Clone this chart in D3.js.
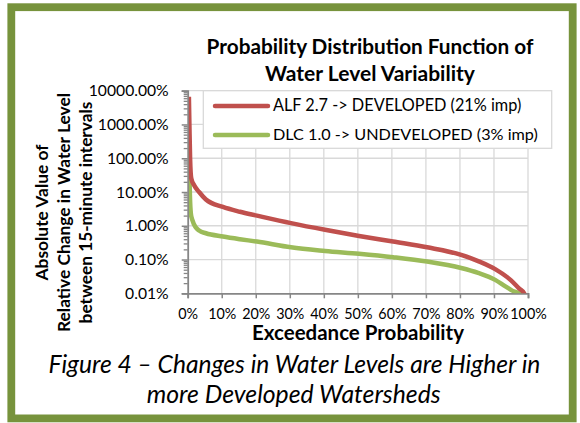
<!DOCTYPE html>
<html><head><meta charset="utf-8">
<script src="https://cdn.jsdelivr.net/npm/d3@7"></script>
<style>html,body{margin:0;padding:0;background:#fff;} svg{display:block;}</style>
</head><body>
<script>
// ---------- data ----------
const titleLines = ["Probability Distribution Function of", "Water Level Variability"];
const yTitleLines = ["Absolute Value of", "Relative Change in Water Level", "between 15-minute intervals"];
const xTitle = "Exceedance Probability";
const captionLines = ["Figure 4 \u2013 Changes in Water Levels are Higher in", "more Developed Watersheds"];
const seriesNames = ["ALF 2.7 -> DEVELOPED (21% imp)", "DLC 1.0 -> UNDEVELOPED (3% imp)"];

const xTickValues = [0, 10, 20, 30, 40, 50, 60, 70, 80, 90, 100];           // exceedance %
const yTickValues = [0.01, 0.1, 1, 10, 100, 1000, 10000];                    // percent

// ALF 2.7 -> DEVELOPED: exceedance probability (%) and value (%)
const alfExceedance = [0, 0.15, 0.35, 0.7, 1.5, 3, 5, 10, 15, 20, 30, 40, 50, 60, 70, 80, 85, 90, 94.5, 97, 98.5, 99.2];
const alfValues     = [6600, 1000, 100, 25, 16, 10, 6, 3.6, 2.6, 2.0, 1.2, 0.76, 0.5, 0.34, 0.23, 0.138, 0.09, 0.052, 0.025, 0.014, 0.01, 0.006];

// DLC 1.0 -> UNDEVELOPED
const dlcExceedance = [0, 0.12, 0.3, 0.6, 1, 2, 3, 5, 10, 15, 20, 30, 40, 50, 60, 70, 80, 85, 90, 93, 95, 97.5, 98.2];
const dlcValues     = [250, 50, 8, 2.2, 1.5, 0.9, 0.72, 0.6, 0.48, 0.4, 0.34, 0.23, 0.18, 0.148, 0.117, 0.087, 0.056, 0.04, 0.025, 0.016, 0.012, 0.0095, 0.006];

// ---------- layout ----------
const W = 580, H = 423;
const plot = {left: 187.7, right: 528, top: 90.7, bottom: 293.3};
const colors = {alf: "#C0504D", dlc: "#9BBB59", border: "#77933C", grid: "#D9D9D9", axis: "#868686"};
const FONT = "Lato, 'Open Sans', 'Liberation Sans', sans-serif";

const svg = d3.select("body").append("svg").attr("width", W).attr("height", H)
  .style("font-family", FONT);

svg.append("rect").attr("x", 0).attr("y", 0).attr("width", W).attr("height", H).attr("fill", "#fff");
svg.append("rect").attr("x", 11.3).attr("y", 7.2).attr("width", 561.4).attr("height", 411.2)
  .attr("fill", "#fff").attr("stroke", colors.border).attr("stroke-width", 7.8);

const x = d3.scaleLinear().domain([0, 100]).range([plot.left, plot.right]);
const y = d3.scaleLog().domain([0.01, 10000]).range([plot.bottom, plot.top]);

function fit(sel, target) {
  const w = sel.node().getComputedTextLength();
  const fs = parseFloat(sel.attr("font-size"));
  sel.attr("font-size", (fs * target / w).toFixed(2));
}

// gridlines
const grid = svg.append("g");
grid.selectAll("line.v").data(xTickValues.filter(d => d > 0)).join("line")
  .attr("x1", d => x(d)).attr("x2", d => x(d)).attr("y1", plot.top).attr("y2", plot.bottom)
  .attr("stroke", colors.grid).attr("stroke-width", 1.3);
grid.selectAll("line.h").data(yTickValues.filter(d => d > 0.01)).join("line")
  .attr("x1", plot.left).attr("x2", plot.right).attr("y1", d => y(d)).attr("y2", d => y(d))
  .attr("stroke", colors.grid).attr("stroke-width", 1.3);

// minor ticks on log axis
const minorTicks = [];
yTickValues.slice(0, -1).forEach(d => { for (let k = 2; k <= 9; k++) minorTicks.push(d * k); });
const yMinor = svg.append("g").attr("transform", `translate(${plot.left},0)`)
  .call(d3.axisLeft(y).tickValues(minorTicks).tickSize(4).tickFormat(""));
yMinor.select(".domain").remove();
yMinor.selectAll("line").attr("stroke", colors.axis).attr("stroke-width", 1.3);

// y axis
const yAxis = svg.append("g").attr("transform", `translate(${plot.left},0)`)
  .call(d3.axisLeft(y).tickValues(yTickValues).tickSize(6).tickPadding(13)
    .tickFormat(d => d3.format(".2f")(d) + "%"));
yAxis.select(".domain").attr("stroke", colors.axis).attr("stroke-width", 1.8);
yAxis.selectAll(".tick line").attr("stroke", colors.axis).attr("stroke-width", 1.5);
yAxis.selectAll("text").attr("font-size", 14).attr("fill", "#000").attr("font-family", FONT);

// x axis
const xAxis = svg.append("g").attr("transform", `translate(0,${plot.bottom})`)
  .call(d3.axisBottom(x).tickValues(xTickValues).tickSize(5).tickFormat(d => d + "%"));
xAxis.select(".domain").attr("stroke", colors.axis).attr("stroke-width", 1.8);
xAxis.selectAll(".tick line").attr("stroke", colors.axis).attr("stroke-width", 1.5);
xAxis.selectAll("text").attr("font-size", 14).attr("fill", "#000").attr("font-family", FONT)
  .attr("y", 25.5).attr("dy", 0);

// fit tick label sizes
{
  const yt = yAxis.selectAll("text").filter(d => d === 10000);
  fit(yt, 80);
  yAxis.selectAll("text").attr("font-size", yt.attr("font-size"));
  const xt = xAxis.selectAll("text").filter(d => d === 100);
  fit(xt, 36.5);
  xAxis.selectAll("text").attr("font-size", xt.attr("font-size"));
}

// series
svg.append("clipPath").attr("id", "clip").append("rect")
  .attr("x", plot.left).attr("y", plot.top - 10).attr("width", plot.right - plot.left + 10)
  .attr("height", plot.bottom - plot.top + 10);

const line = d3.line().x(d => x(d[0])).y(d => y(d[1])).curve(d3.curveMonotoneX);
const series = [
  {name: seriesNames[0], color: colors.alf, pts: d3.zip(alfExceedance, alfValues)},
  {name: seriesNames[1], color: colors.dlc, pts: d3.zip(dlcExceedance, dlcValues)}
];
const lines = svg.append("g").attr("clip-path", "url(#clip)");
// draw DLC first then ALF on top
[series[1], series[0]].forEach(s => {
  lines.append("path").attr("d", line(s.pts)).attr("fill", "none")
    .attr("stroke", s.color).attr("stroke-width", 4.5).attr("stroke-linejoin", "round");
});
// re-align start so the vertical segment sits just right of the axis
lines.attr("transform", "translate(1.2,0)");

// legend
const lg = svg.append("g");
lg.append("rect").attr("x", 203.3).attr("y", 90.7).attr("width", 348.4).attr("height", 57.6)
  .attr("fill", "#fff").attr("stroke", colors.grid).attr("stroke-width", 1.3);
series.forEach((s, i) => {
  const ly = 106 + i * 29;
  lg.append("line").attr("x1", 215).attr("x2", 268).attr("y1", ly).attr("y2", ly)
    .attr("stroke", s.color).attr("stroke-width", 4.5).attr("stroke-linecap", "round");
  const t = lg.append("text").attr("x", 273).attr("y", ly + 5.3).attr("font-size", 15)
    .attr("fill", "#000").text(s.name);
  fit(t, i === 0 ? 248.5 : 265);
});

// title
titleLines.forEach((txt, i) => {
  const t = svg.append("text").attr("x", 370).attr("y", [54, 81][i]).attr("text-anchor", "middle")
    .attr("font-weight", "bold").attr("font-size", 17).attr("fill", "#000").text(txt);
  fit(t, [327, 210][i]);
});

// y title
yTitleLines.forEach((txt, i) => {
  const bx = [48, 69.5, 92.3][i];
  const t = svg.append("text").attr("transform", `translate(${bx},212.5) rotate(-90)`)
    .attr("text-anchor", "middle").attr("font-weight", "bold").attr("font-size", 14)
    .attr("fill", "#000").text(txt);
  fit(t, [136, 239, 222][i]);
});

// x title
{
  const t = svg.append("text").attr("x", 358).attr("y", 340.3).attr("text-anchor", "middle")
    .attr("font-weight", "bold").attr("font-size", 15).attr("fill", "#000").text(xTitle);
  fit(t, 212);
}

// caption
captionLines.forEach((txt, i) => {
  const t = svg.append("text").attr("x", [294.5, 293.7][i]).attr("y", [372.7, 402.7][i])
    .attr("text-anchor", "middle").attr("font-style", "italic").attr("font-size", 20)
    .attr("fill", "#000").text(txt);
  fit(t, [492, 294][i]);
});
</script>
</body></html>
